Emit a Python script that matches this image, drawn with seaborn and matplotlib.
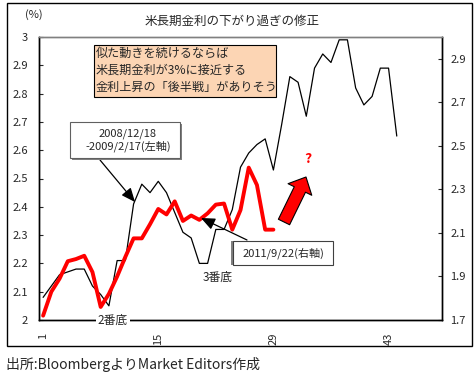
import matplotlib
matplotlib.use('Agg')
import matplotlib.pyplot as plt
import seaborn as sns
from matplotlib.patches import Rectangle

# ---- data ----
day_black = list(range(1, 45))
yield_black = [2.08, 2.12, 2.16, 2.17, 2.18, 2.18, 2.12, 2.09, 2.05, 2.21,
               2.21, 2.41, 2.48, 2.45, 2.49, 2.45, 2.38, 2.31, 2.29, 2.20,
               2.20, 2.32, 2.32, 2.39, 2.54, 2.59, 2.62, 2.64, 2.53, 2.69,
               2.86, 2.84, 2.72, 2.89, 2.94, 2.91, 2.99, 2.99, 2.82, 2.76,
               2.79, 2.89, 2.89, 2.65]
day_red = list(range(1, 30))
yield_red = [1.72, 1.83, 1.89, 1.97, 1.98, 1.995, 1.92, 1.76, 1.82, 1.90,
             1.99, 2.075, 2.075, 2.14, 2.21, 2.185, 2.245, 2.155, 2.18, 2.16,
             2.19, 2.23, 2.235, 2.115, 2.205, 2.40, 2.32, 2.115, 2.115]
xtick_values = [1, 15, 29, 43]
xtick_labels = ['1', '15', '29', '43']
left_ticks = [2.0, 2.1, 2.2, 2.3, 2.4, 2.5, 2.6, 2.7, 2.8, 2.9, 3.0]
left_labels = ['2', '2.1', '2.2', '2.3', '2.4', '2.5', '2.6', '2.7', '2.8', '2.9', '3']
right_ticks = [1.7, 1.9, 2.1, 2.3, 2.5, 2.7, 2.9]
right_labels = ['1.7', '1.9', '2.1', '2.3', '2.5', '2.7', '2.9']

title = '米長期金利の下がり過ぎの修正'
note_lines = ['似た動きを続けるならば', '米長期金利が3%に接近する', '金利上昇の「後半戦」がありそう']
label_black = ['2008/12/18', '-2009/2/17(左軸)']
label_red = '2011/9/22(右軸)'
source = '出所:BloombergよりMarket Editors作成'

sns.set_style('white')
plt.rcParams['font.family'] = ['Noto Sans CJK JP', 'DejaVu Sans']

W, H = 476, 376
fig = plt.figure(figsize=(W / 100, H / 100), dpi=100)


def P(x, y):
    return (x / W, 1 - y / H)


# outer frame
fig.patches.append(Rectangle(P(7, 346), (472 - 7) / W, (346 - 3) / H,
                             transform=fig.transFigure, fill=False,
                             ec='black', lw=1.0, zorder=0))

ax = fig.add_axes([39 / W, 1 - 320 / H, (442 - 39) / W, (320 - 37) / H])
sns.lineplot(x=day_black, y=yield_black, ax=ax, color='black', linewidth=0.9)
ax.set_xlim(0.5, 49.5)
ax.set_ylim(2.0, 3.0)
ax.set_yticks(left_ticks)
ax.set_yticklabels(left_labels)
ax.set_xticks(xtick_values)
ax.set_xticklabels(xtick_labels, rotation=90)
ax.tick_params(axis='y', direction='in', length=3, width=0.8, pad=8, labelsize=8)
ax.tick_params(axis='x', length=0, pad=9, labelsize=8)
ax.set_xlabel('')
ax.set_ylabel('')

ax2 = ax.twinx()
sns.lineplot(x=day_red, y=yield_red, ax=ax2, color='red', linewidth=2.8)
ax2.set_ylim(1.7, 3.0)
ax2.set_yticks(right_ticks)
ax2.set_yticklabels(right_labels)
ax2.tick_params(axis='y', direction='in', length=3, width=0.8, pad=6, labelsize=8)
ax2.set_ylabel('')
ax2.set_xlim(0.5, 49.5)

for a in (ax, ax2):
    for s in ['left', 'right', 'bottom']:
        a.spines[s].set_color('black')
        a.spines[s].set_linewidth(1.0)
    a.spines['top'].set_color('#808080')
    a.spines['top'].set_linewidth(1.0)

# title and unit
fig.text(*P(232, 21), title, ha='center', va='center', fontsize=9)
fig.text(*P(34, 15), '(%)', ha='center', va='center', fontsize=8)

# orange note box
fig.patches.append(Rectangle(P(94, 97), (276 - 94) / W, (97 - 45) / H,
                             transform=fig.transFigure, fc='#FCD5B4',
                             ec='black', lw=0.8, zorder=2))
for i, line in enumerate(note_lines):
    fig.text(*P(96, 53.5 + i * 17), line, ha='left', va='center',
             fontsize=8.7, zorder=3)

# black series label box
fig.patches.append(Rectangle(P(72, 160), (182 - 72) / W, (160 - 124) / H,
                             transform=fig.transFigure, fc='#808080',
                             ec='none', zorder=2))
fig.patches.append(Rectangle(P(70, 158), (180 - 70) / W, (158 - 122) / H,
                             transform=fig.transFigure, fc='white',
                             ec='#606060', lw=0.8, zorder=2))
fig.text(*P(128, 133.5), label_black[0], ha='center', va='center', fontsize=8, zorder=3)
fig.text(*P(128, 146.5), label_black[1], ha='center', va='center', fontsize=8, zorder=3)

# red series label box
fig.patches.append(Rectangle(P(231, 265), (333 - 231) / W, (265 - 241) / H,
                             transform=fig.transFigure, fc='#808080',
                             ec='none', zorder=2))
fig.patches.append(Rectangle(P(233, 265), (333 - 233) / W, (265 - 241) / H,
                             transform=fig.transFigure, fc='white',
                             ec='#404040', lw=0.8, zorder=2))
fig.text(*P(283, 253), label_red, ha='center', va='center', fontsize=8, zorder=3)

# thin arrows
ax2.annotate('', xy=P(135, 202), xycoords='figure fraction',
             xytext=P(100, 160), textcoords='figure fraction',
             arrowprops=dict(arrowstyle='-|>,head_length=0.7,head_width=0.3',
                             mutation_scale=12, color='black', lw=0.9,
                             shrinkA=0, shrinkB=0), zorder=4)
ax2.annotate('', xy=P(201, 218), xycoords='figure fraction',
             xytext=P(247, 240), textcoords='figure fraction',
             arrowprops=dict(arrowstyle='-|>,head_length=0.7,head_width=0.3',
                             mutation_scale=12, color='black', lw=0.9,
                             shrinkA=0, shrinkB=0), zorder=4)

# thick red arrow
ax2.annotate('', xy=P(306, 177), xycoords='figure fraction',
             xytext=P(284, 222), textcoords='figure fraction',
             arrowprops=dict(arrowstyle='simple,head_length=10,head_width=19,tail_width=9',
                             mutation_scale=1, fc='red', ec='black', lw=0.8,
                             shrinkA=0, shrinkB=0), zorder=4)
fig.text(*P(308, 159), '?', ha='center', va='center', fontsize=10,
         color='red', fontweight='bold')

# bottom labels
fig.text(*P(113, 320), '2番底', ha='center', va='center', fontsize=8.5, zorder=3,
         bbox=dict(fc='white', ec='none', pad=1.5))
fig.text(*P(218, 277), '3番底', ha='center', va='center', fontsize=8.5, zorder=3)

fig.text(*P(6, 365), source, ha='left', va='center', fontsize=10)

fig.savefig('out.png', dpi=100)
